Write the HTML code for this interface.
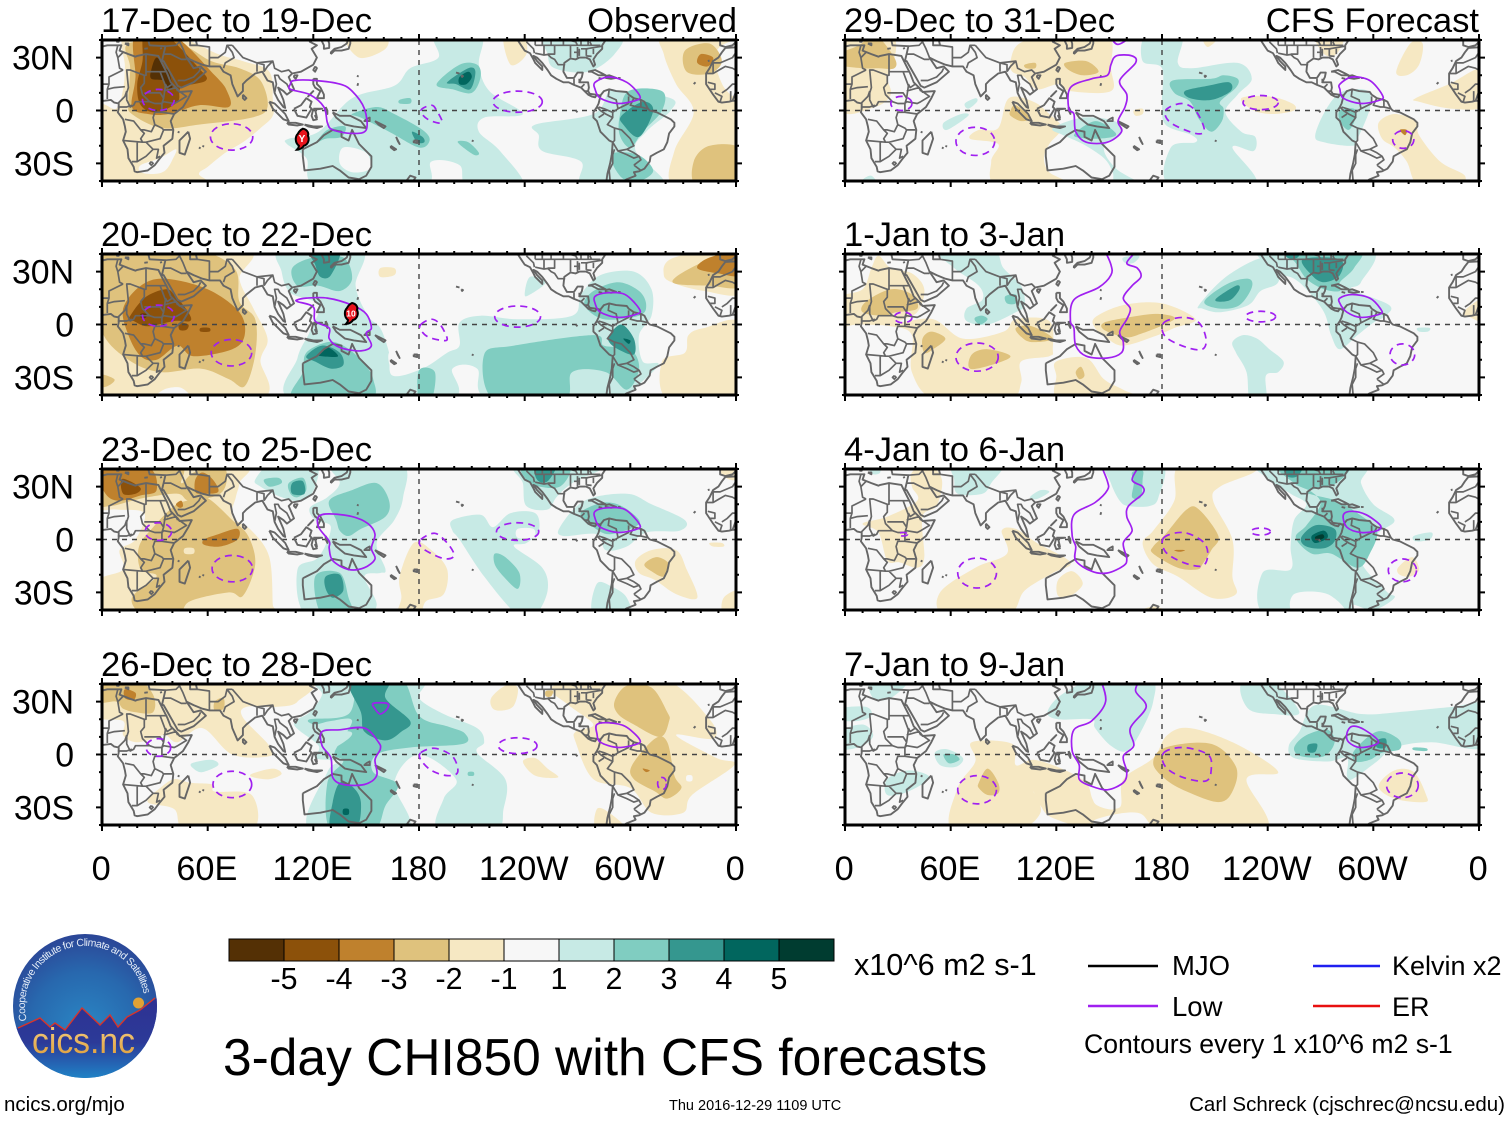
<!DOCTYPE html>
<html lang="en">
<head>
<meta charset="utf-8">
<title>3-day CHI850 with CFS forecasts</title>
<style>
html,body{margin:0;padding:0;background:#fff;width:1510px;height:1121px;overflow:hidden}
svg{display:block;font-family:"Liberation Sans",Arial,sans-serif}
</style>
</head>
<body>
<svg id="chart" xmlns="http://www.w3.org/2000/svg" width="1510" height="1121" viewBox="0 0 1510 1121">
<defs>
<radialGradient id="logoSky" cx="50%" cy="65%" r="70%"><stop offset="0" stop-color="#2a86c4"/><stop offset="0.55" stop-color="#2868ae"/><stop offset="1" stop-color="#2c3f92"/></radialGradient>
<linearGradient id="logoLand" x1="0" y1="0" x2="0" y2="1"><stop offset="0" stop-color="#2e3192"/><stop offset="0.55" stop-color="#2c3a98"/><stop offset="1" stop-color="#1f86c8"/></linearGradient>
<linearGradient id="logoGold" x1="0" y1="0" x2="0" y2="1"><stop offset="0" stop-color="#f7d58a"/><stop offset="1" stop-color="#dd9a35"/></linearGradient>
<clipPath id="logoClip"><circle cx="85" cy="1006" r="72"/></clipPath>
<path id="logoArc" d="M 26.800 1020.500 A 60 60 0 1 1 143.700 993.500"/>
</defs>
<g id="panels"></g>

<g id="colorbar"></g>
<text x="854" y="975" font-size="30.600">x10^6 m2 s-1</text>

<g>
<line x1="1088" y1="966" x2="1158" y2="966" stroke="#000" stroke-width="2.500"/>
<text x="1172" y="975" font-size="27.500">MJO</text>
<line x1="1088" y1="1006" x2="1158" y2="1006" stroke="#a020f0" stroke-width="2.500"/>
<text x="1172" y="1016" font-size="27.500">Low</text>
<line x1="1313" y1="966" x2="1380" y2="966" stroke="#2020f0" stroke-width="2.500"/>
<text x="1392" y="975" font-size="27">Kelvin x2</text>
<line x1="1313" y1="1006" x2="1380" y2="1006" stroke="#e81010" stroke-width="2.500"/>
<text x="1392" y="1016" font-size="27">ER</text>
<text x="1084" y="1053" font-size="26.600">Contours every 1 x10^6 m2 s-1</text>
</g>

<text x="223" y="1075" font-size="51.5">3-day CHI850 with CFS forecasts</text>
<text x="4" y="1111" font-size="20.500">ncics.org/mjo</text>
<text x="669" y="1110" font-size="14.500">Thu 2016-12-29 1109 UTC</text>
<text x="1505" y="1111" font-size="20.500" text-anchor="end">Carl Schreck (cjschrec@ncsu.edu)</text>

<g>
<circle cx="85" cy="1006" r="72" fill="url(#logoSky)"/>
<g clip-path="url(#logoClip)">
<path d="M 10 1029 L 18 1028 L 40 1018 L 50 1027 L 55 1023 L 65 1030 L 82 1008 L 100 1025 L 110 1015 L 118 1027 L 127 1017 L 140 1010 L 158 997 L 158 1080 L 10 1080 Z" fill="url(#logoLand)" stroke="none"/>
<path d="M 18 1028 L 40 1018 L 50 1027 L 55 1023 L 65 1030 L 82 1008 L 100 1025 L 110 1015 L 118 1027 L 127 1017 L 140 1010 L 155 998" fill="none" stroke="#d8342a" stroke-width="1.4"/>
<circle cx="138.500" cy="1003" r="5.500" fill="#e0a235"/>
</g>
<text font-size="10.500" fill="#e4ecf7"><textPath href="#logoArc" textLength="191">Cooperative Institute for Climate and Satellites</textPath></text>
<text x="32" y="1053" font-size="36" textLength="103" lengthAdjust="spacingAndGlyphs" fill="url(#logoGold)">cics.nc</text>
</g>

<script>
const NS = 'http://www.w3.org/2000/svg';

/* ---------- axis definitions ---------- */
const columnLeftEdges = [102, 845];
const rowTopEdges = [40, 254, 469, 684];
const panelWidth = 634;
const panelHeight = 141;
const lonRange = [0, 360];
const latRange = [40, -40];
const lonMajorTicks = [0, 60, 120, 180, 240, 300, 360];
const lonMajorLabels = ['0', '60E', '120E', '180', '120W', '60W', '0'];
const latMajorTicks = [30, 0, -30];
const latMajorLabels = ['30N', '0', '30S'];

/* ---------- colour scale ---------- */
const brownLevels = ['#f6e8c3', '#dfc27d', '#bf812d', '#8c510a', '#543005'];
const tealLevels = ['#c7eae5', '#80cdc1', '#35978f', '#01665e', '#003c30'];
const neutralColor = '#f7f7f7';
const colorbarColors = ['#543005','#8c510a','#bf812d','#dfc27d','#f6e8c3','#f7f7f7','#c7eae5','#80cdc1','#35978f','#01665e','#003c30'];
const colorbarLabels = ['-5','-4','-3','-2','-1','1','2','3','4','5'];

/* ---------- panel metadata ---------- */
const panelTitles = ['17-Dec to 19-Dec','20-Dec to 22-Dec','23-Dec to 25-Dec','26-Dec to 28-Dec','29-Dec to 31-Dec','1-Jan to 3-Jan','4-Jan to 6-Jan','7-Jan to 9-Jan'];

/* ---------- filled CHI850 contours: [level, [lon,lat,...]] ---------- */
const fieldP1 = [
[-1,[-3,1,8,1,12,12,13,25,13,43,40,43,66,32,80,28,95,22,97,6,97,-3,90,-10,80,-18,70,-24,60,-32,55,-36,58,-43,-3,-43]],
[0,[22,-31,33,-27,42,-22,40,-28,36,-34,30,-36,22,-35]],
[-2,[15,38,43,38,62,28,78,24,90,17,94,2,85,-4,55,-8,34,-10,17,-2,15,5,16,24]],
[-3,[19,43,40,43,64,20,71,11,72,2,55,3,38,-2,26,-2,17,2,19,19]],
[-4,[24,43,36,43,55,24,59,17,45,13,43,5,31,-1,22,3,20,15,23,28]],
[-5,[31,30,36,24,38,22,40,13,37,13,35,17,28,18,28,23]],
[-1,[320,43,319,32,326,15,336,-1,325,-23,325,-43,363,-43,363,43]],
[0,[352,37,363,37,363,9,354,12,348,28]],
[-2,[331,34,345,38,352,28,345,21,332,22]],
[-3,[340,32,347,30,344,25,338,27]],
[-2,[336,-29,345,-20,363,-22,363,-43,338,-43]],
[-1,[138,43,146,30,161,35,160,43]],
[-1,[228,43,232,26,241,32,239,43]],
[1,[189,43,215,43,214,26,220,11,239,-2,217,-4,214,-12,226,-23,239,-43,208,-43,203,-31,187,-29,182,-43,123,-43,116,-27,105,-19,106,-16,123,-12,142,7,166,14,175,24,191,30]],
[0,[137,-21,150,-24,152,-33,142,-35,135,-30]],
[1,[246,-8,279,-2,288,11,295,11,323,7,323,0,309,-12,303,-23,319,-43,274,-43,272,-29,250,-23,248,-14]],
[1,[253,43,293,43,291,32,276,22,257,24,253,32]],
[2,[142,-2,156,2,166,-2,182,-11,186,-17,180,-21,163,-12,147,-4]],
[2,[294,-3,299,11,318,11,318,0,307,-12,300,-21,294,-14]],
[2,[289,-25,304,-25,313,-34,305,-40,295,-38]],
[2,[190,15,203,26,213,26,215,19,210,10,199,12]],
[2,[169,6,175,7,175,4,169,4]],
[2,[202,-18,208,-18,214,-24,211,-25]],
[2,[122,-18,128,-11,138,-9,136,-15,127,-16]],
[3,[196,16,208,24,212,22,209,12,201,15]],
[3,[295,-3,307,5,313,0,305,-15,296,-8]],
[3,[176,-12,182,-15,183,-18,179,-18]],
[4,[203,19,208,22,210,19,207,15,203,15]]
];
const fieldP2 = [
[-1,[81,43,78,26,86,9,94,-8,90,-20,88,-43,-3,-43,-3,43]],
[0,[30,-43,35,-37,45,-36,50,-43]],
[-2,[-3,43,50,43,75,32,78,13,87,3,87,-17,81,-35,72,-31,56,-25,33,-27,15,-20,0,-4,-3,25]],
[-2,[-3,-28,7,-31,3,-35,-3,-35]],
[-3,[12,9,22,22,36,26,60,20,78,7,81,-6,74,-14,52,-18,43,-12,31,-20,22,-18,15,-6]],
[-4,[15,3,24,15,36,20,41,17,49,7,50,2,41,2,26,-1,18,2]],
[-4,[44,1,49,0,48,-3,44,-3]],
[-4,[56,-2,61,-2,61,-4,56,-4]],
[-5,[22,6,25,6,25,4,22,4]],
[-1,[319,28,325,38,363,43,363,18,342,19,326,23]],
[-2,[324,24,338,34,361,42,363,22,345,22]],
[-3,[338,32,345,38,363,41,363,28,350,29]],
[-1,[318,-21,331,-16,333,-6,342,-2,363,0,363,-43,322,-43]],
[-1,[158,32,166,32,166,28,158,27]],
[1,[102,43,147,43,144,22,151,5,158,-2,163,-16,165,-29,182,-25,196,-16,203,-12,203,1,215,5,236,3,267,5,272,17,283,28,302,30,312,20,312,5,305,-6,307,-21,316,-23,300,-39,302,-43,222,-43,213,-25,199,-25,196,-43,109,-43,111,-19,118,-4,123,11,107,18,102,30]],
[0,[163,-16,172,-17,175,-24,165,-26]],
[1,[240,17,243,27,252,24,243,17]],
[2,[108,32,120,38,137,38,142,26,135,19,123,22,111,22]],
[2,[116,-16,128,-10,137,-12,147,-20,154,-31,151,-43,109,-43,114,-27]],
[2,[217,-17,234,-12,279,-6,285,-12,300,-14,305,-25,298,-37,286,-27,267,-27,262,-43,223,-43]],
[2,[180,-26,189,-27,187,-43,180,-43]],
[2,[279,19,293,24,305,19,309,11,305,5,285,3,274,11]],
[3,[118,43,135,43,130,28,124,27,121,34]],
[3,[116,-18,125,-12,135,-16,137,-23,130,-25,121,-21]],
[3,[288,-6,295,0,302,-8,302,-17,293,-14,288,-10]],
[4,[123,-17,128,-13,134,-18,125,-18]],
[4,[296,-8,300,-9,299,-11]]
];
const fieldP3 = [
[-1,[-3,43,78,43,78,32,76,24,74,13,85,5,95,-10,97,-37,97,-43,-3,-43,-3,-24,12,-17,10,-6,19,0,24,15,8,17,-3,19]],
[-2,[48,22,59,24,74,11,83,2,87,-14,80,-32,72,-30,50,-35,43,-43,24,-43,17,-33,31,-21,22,-17,21,-4,29,7,41,19]],
[-2,[-3,43,43,43,45,32,52,38,67,42,71,36,67,26,50,22,43,26,26,24,17,22,5,19,-3,21]],
[-3,[-3,41,26,41,31,28,22,25,10,22,2,26]],
[-3,[53,34,57,38,63,34,66,27,57,26,53,27]],
[-3,[42,20,45,22,46,19,44,18]],
[-3,[58,0,66,3,77,6,77,0,67,-4,58,-3]],
[-4,[11,34,16,33,22,29,19,26,12,26]],
[-1,[47,-5,52,-5,52,-8,47,-8]],
[-1,[169,-21,177,-2,187,-6,196,-17,194,-31,184,-35,180,-43,168,-43,170,-33]],
[-1,[303,-12,312,-6,326,-6,332,-17,338,-33,326,-31,314,-23,305,-19]],
[-2,[308,-14,315,-10,322,-14,319,-21,312,-18]],
[-1,[345,-2,352,-2,353,-4,347,-4]],
[-1,[353,-33,363,-29,363,-43,353,-43]],
[-1,[350,43,363,43,360,34,353,36]],
[1,[87,34,97,43,121,43,121,30,114,22,102,24,90,30]],
[1,[131,43,170,43,171,24,166,11,156,-2,161,-17,158,-19,149,-21,156,-37,147,-43,116,-43,111,-17,123,-10,130,7,121,11,118,18,128,24,135,32]],
[1,[199,11,215,14,222,7,232,15,246,15,248,5,241,-2,234,-4,250,-16,253,-29,246,-43,236,-43,217,-21,203,0,199,5]],
[0,[236,6,245,6,245,1,236,1]],
[1,[236,43,286,43,267,32,258,24,253,17,241,19,239,32]],
[1,[260,7,274,22,298,26,312,20,331,11,328,5,309,4,298,-4,286,-6,281,3,262,2]],
[1,[281,-25,290,-27,298,-33,299,-43,279,-43]],
[2,[92,34,100,35,102,32,95,30]],
[2,[106,32,114,35,116,28,111,24,107,26]],
[3,[108,32,114,33,115,26,108,26]],
[2,[129,22,142,28,156,32,163,22,161,13,147,6,140,2,135,5,133,11]],
[2,[121,-21,135,-19,140,-33,142,-43,125,-43]],
[3,[127,-21,135,-20,137,-29,131,-33,127,-28]],
[2,[223,-8,229,-10,237,-19,236,-28,228,-21,223,-14]],
[2,[239,43,265,43,260,30,243,32]],
[3,[246,43,258,43,253,33,247,34]],
[2,[274,17,285,21,295,19,305,11,302,7,288,3,279,7,272,13]]
];
const fieldP4 = [
[-1,[-3,43,112,43,111,30,99,27,82,27,80,21,95,5,95,-1,74,0,57,15,43,7,36,11,29,9,19,7,12,11,12,19,-3,22]],
[-2,[-3,43,19,43,29,34,29,24,19,24,12,26,8,30,-3,30]],
[-2,[64,30,69,32,69,26,64,25]],
[-3,[13,37,19,35,18,31,13,32]],
[-1,[41,-14,50,-16,63,-17,64,-21,85,-23,85,-43,48,-43,41,-31,26,-27,33,-19]],
[-1,[85,-11,97,-8,102,-11,95,-14,86,-13]],
[-1,[239,-4,246,-2,253,-8,259,-13,246,-12]],
[-1,[221,32,229,39,236,38,234,28,228,25,222,26]],
[-1,[255,38,279,43,319,43,345,20,347,9,326,11,349,-2,359,-6,335,-23,330,-33,312,-33,300,-19,279,-14,269,7,269,13,279,17,265,28]],
[0,[332,-12,335,-12,335,-15,332,-15]],
[-1,[281,-31,288,-33,298,-43,281,-43]],
[-2,[291,30,298,39,312,38,321,24,322,19,317,10,302,17,293,23]],
[-2,[301,-6,314,9,321,7,325,-12,329,-19,321,-25,314,-21,302,-14]],
[-3,[307,-8,311,-9,309,-10]],
[-2,[252,36,256,36,255,33,252,33]],
[1,[123,43,180,43,180,32,194,23,213,15,217,7,213,1,229,-14,228,-31,223,-43,191,-43,194,-25,201,-14,180,0,166,-16,173,-43,118,-43,128,-10,135,-4,121,-2,123,5,109,17,118,24,125,34]],
[2,[118,20,140,23,147,43,170,43,180,22,196,16,206,12,205,6,175,4,156,0,154,-10,168,-17,161,-29,154,-43,130,-43,128,-16,137,-4,132,1,142,19,130,19,121,17]],
[1,[128,12,141,13,140,9,129,3]],
[3,[140,43,163,43,161,32,175,19,170,13,161,8,149,13,147,24]],
[3,[135,-16,142,-18,147,-27,144,-43,130,-43,131,-27]],
[4,[137,-31,140,-31,140,-34,137,-34]],
[2,[208,-10,211,-10,211,-12,208,-12]],
[1,[51,-5,62,-3,66,-6,57,-10,52,-8]]
];
const fieldP5 = [
[-1,[-3,43,26,43,28,28,24,19,26,9,17,2,-3,1]],
[-1,[94,28,99,38,118,43,149,43,151,24,151,11,128,11,121,15,109,12,102,19,95,22]],
[-1,[87,-10,93,7,107,5,116,-2,123,-10,116,-19,113,-27,116,-35,128,-43,87,-43,83,-29,87,-19,71,-16,76,-11]],
[-1,[203,43,213,43,206,36]],
[-1,[225,7,241,8,254,4,255,0,243,-2,232,0]],
[-1,[303,-7,312,-2,324,-6,326,-14,338,-29,352,-37,347,-43,326,-43,319,-29,312,-21,305,-16]],
[-1,[313,22,321,38,328,38,326,26,319,20]],
[-1,[324,7,343,15,363,24,363,3,345,1,326,5]],
[-1,[267,43,283,43,279,32,272,32]],
[-1,[164,0,169,1,169,-2,165,-3]],
[-2,[-3,32,8,37,17,43,28,30,28,24,19,24,10,24,-3,26]],
[-2,[125,27,137,28,144,22,135,20,127,23]],
[-2,[102,26,108,27,108,24,103,24]],
[-2,[94,0,97,3,105,-4,100,-6,94,-3]],
[-3,[315,-11,319,-11,318,-14]],
[1,[68,4,74,7,75,5,70,1]],
[1,[56,-7,66,-2,70,-3,58,-11]],
[1,[10,-40,15,-37,19,-43]],
[1,[169,28,171,43,191,43,189,27,197,24,223,27,231,18,223,9,216,-1,225,-12,233,-15,232,-23,220,-21,233,-43,185,-43,185,-21,199,-18,197,-14,182,-8,180,5,180,24]],
[2,[186,17,208,18,215,20,223,18,222,13,213,5,215,1,214,-6,208,-12,201,-5,196,5,187,10]],
[3,[193,11,206,14,218,16,219,11,208,6,196,7]],
[1,[267,-14,274,2,283,11,297,11,298,1,291,-16,288,-20,272,-18]],
[2,[281,0,289,1,290,-4,286,-11,281,-6]],
[1,[118,-10,135,-4,153,-6,157,-13,147,-21,154,-33,170,-43,154,-43,152,-35,147,-27,135,-19,124,-14]],
[2,[130,-14,142,-6,153,-12,152,-15,140,-16]]
];
const fieldP6 = [
[-1,[15,32,19,39,26,32,38,29,45,20,41,7,29,1,50,3,67,-8,90,-4,97,3,116,2,118,-14,116,-18,100,-21,100,-33,92,-43,52,-43,38,-27,38,-6,26,-1,8,0,-3,0,-3,15,10,20]],
[-1,[120,-21,137,-19,147,-31,158,-37,168,-43,123,-43,120,-29]],
[-1,[142,4,158,11,180,12,199,3,187,-2,175,-7,158,-12,149,-8,142,-2]],
[-2,[10,7,12,13,26,20,38,17,41,9,29,7,22,5]],
[-2,[44,-8,49,-4,57,-8,50,-14,45,-16]],
[-2,[71,-25,72,-17,81,-14,94,-18,83,-23]],
[-2,[97,-2,106,-1,118,-8,106,-10,100,-7]],
[-2,[131,-27,134,-24,136,-29,133,-31]],
[-2,[147,1,161,4,177,6,187,3,166,-6,158,-7,147,-3]],
[-1,[351,7,363,15,363,2,355,4]],
[1,[52,43,83,43,90,32,100,22,102,11,97,7,81,0,69,2,69,9,78,14,76,22,62,32]],
[2,[74,4,78,5,81,3,77,0,74,2]],
[2,[91,16,97,17,97,12,92,12]],
[1,[158,38,167,39,164,35,159,35]],
[1,[201,11,215,26,234,37,246,37,246,24,236,19,229,11,213,7,203,9]],
[2,[204,13,217,23,229,26,231,21,224,11,213,9]],
[3,[211,15,222,22,224,20,219,14,212,13]],
[1,[236,43,298,43,293,24,288,20,309,11,307,5,300,1,291,-6,281,-14,276,-6,272,7,262,20,255,26,246,30]],
[2,[246,43,291,43,289,32,281,24,281,19,272,20,262,26,255,36]],
[3,[250,43,258,43,257,38,251,38]],
[3,[260,37,281,37,281,28,272,24,265,28]],
[1,[220,-10,226,-6,234,-8,241,-14,249,-21,246,-27,239,-29,239,-43,230,-43,228,-27,222,-16]],
[1,[325,-2,332,-2,331,-4,326,-4]]
];
const fieldP7 = [
[-1,[38,38,47,43,55,34,52,19,44,13,45,-10,41,-16,31,-13,24,-12,19,4,10,9,24,13,41,22,38,30]],
[-1,[89,5,97,6,109,-2,128,-13,118,-19,102,-29,92,-43,57,-43,54,-30,74,-16,92,-8]],
[-1,[121,-23,129,-18,135,-25,128,-32,121,-32]],
[-1,[169,-2,175,5,187,22,191,43,232,43,232,38,213,30,209,22,220,0,220,-21,222,-31,208,-33,189,-21,175,-14]],
[-1,[165,-43,175,-38,187,-43]],
[-2,[175,-4,182,3,194,17,201,17,212,2,208,-6,203,-14,200,-17,189,-16,175,-8]],
[-3,[187,-6,193,-6,190,-7]],
[-1,[314,-16,322,-10,326,-17,321,-21,315,-20]],
[1,[62,43,89,43,83,32,78,26,64,26,62,34]],
[1,[14,40,19,43,20,38,16,37]],
[1,[105,24,111,28,116,27,109,23]],
[1,[149,43,180,43,178,24,173,19,161,19,156,22,151,32]],
[2,[163,38,169,39,169,34,168,24,163,24,164,32]],
[1,[236,43,293,43,293,32,300,20,312,11,302,3,293,-12,307,-29,312,-33,300,-40,288,-37,286,-43,239,-43,237,-19,253,-17,253,-4,255,11,262,20,253,26,241,34]],
[0,[255,-31,274,-31,284,-43,256,-43]],
[1,[323,2,333,4,332,0,324,-1]],
[2,[246,43,285,43,279,32,262,27,279,22,291,15,302,5,298,-8,291,-16,276,-8,265,-8,256,1,262,8,270,20,265,27,255,32]],
[3,[259,1,267,8,278,6,278,-1,272,-5,262,-4]],
[3,[249,43,260,43,257,36,251,36]],
[4,[265,2,272,5,274,1,267,-2]],
[5,[267,1.5,271,3,272,1,268,-0.5]]
];
const fieldP8 = [
[-1,[61,-43,64,-19,74,-4,72,7,95,6,97,-6,107,-3,123,-8,137,-16,142,-27,156,-30,158,-14,175,-2,183,11,196,15,222,6,246,-10,228,-14,239,-43,182,-43,166,-33,142,-37,142,-43,118,-36,111,-29,107,-21,111,-33,97,-43]],
[0,[142,-20,153,-22,153,-31,142,-28]],
[-2,[175,-5,182,4,208,6,222,-7,220,-21,212,-27,194,-21,182,-14]],
[-2,[76,-16,81,-8,87,-16,87,-22,81,-23,76,-19]],
[-1,[303,-18,312,-9,323,-10,330,-23,329,-27,312,-25]],
[1,[15,43,36,43,26,32,16,32]],
[1,[-3,26,12,27,15,22,7,19,-3,20]],
[1,[-3,13,10,17,16,11,10,5,-3,3]],
[1,[24,-14,36,-9,48,-13,36,-21,24,-23]],
[1,[51,1,58,3,67,-2,63,-7,54,-6]],
[2,[56,0,62,0,65,-3,59,-5]],
[1,[115,24,123,34,143,43,173,43,175,30,168,13,160,2,151,5,142,15,140,20,121,20]],
[1,[225,40,241,43,258,24,243,23,229,26]],
[1,[252,5,258,13,267,28,293,23,314,24,345,27,363,28,363,4,333,7,312,4,302,-4,288,-14,285,-12,285,-2,274,-4,255,-2]],
[2,[255,4,262,11,274,14,278,7,272,-1,259,-1]],
[2,[289,2,302,13,314,9,315,3,305,1,298,-3,290,-4]],
[2,[323,4,330,3.5,330,2,323,2.5]],
[3,[263,5.5,268,6,267,1.5,263,1.5]],
[3,[302,8,307,9,307,4,302,4]]
];

/* ---------- low-frequency contours (solid positive, dashed negative) ---------- */
const lowSolidClosedP1 = [[107,15,109,17,121,17,135,15,142,11,149,1,150,-11,142,-13,131,-11,128,-7,126,2,118,9,107,12],[280,16,288,19,298,16,305,9,304,6,293,4,283,7,280,12]];
const lowSolidClosedP2 = [[111,14,116,15,128,15,142,11,150,6,153,-2,150,-5,153,-12,147,-15,135,-13,129,-8,129,-2,121,2,120,10,111,13],[280,16,287,18,297,17,305,9,304,6,293,4,283,7,280,12]];
const lowSolidClosedP3 = [[123,13,129,14.5,142,13,151,9,155,3,153,-5,155,-11,149,-16,140,-17,131,-12,129,-5,129,-1,123,7],[280,16,287,18,297,17,305,9,304,6,293,4,283,7,280,12]];
const lowSolidClosedP4 = [[125,13,135,14,149,15,157,7,158,3,155,-3,156,-12,149,-17,137,-17,131,-13,130,-2,125,5],[154,29,162,29,162,26,158,23,155,26],[281,17,288,18,297,16,305,9,304,6,293,4,283,7,281,12]];
const lowSolidClosedP5 = [[151,26,154,31,163,31,165,27,156,17,160,9,159,2,155,-6,157,-12,149,-18,137,-18,131,-12,130,-2,127,1,128,13,140,18,149,20],[281,15,288,19,298,17,305,9,304,6,293,4,283,7,281,12]];
const lowSolidClosedP6 = [[281,15,288,17,298,15,304,9,304,6,293,4,285,7,281,12]];
const lowSolidClosedP7 = [[283,14,288,16,296,14,304,8,302,5,293,4,285,7]];
const lowSolidClosedP8 = [[285,12,288,16,295,14,303,7,293,4,286,7]];
const lowSolidOpenP5 = [[150,43,155,37.5,164,43]];
const lowSolidOpenP6 = [[147,43,151,34,151,28,144,21,130,14,128,2,130,-2,131,-12,137,-18,149,-19,157,-16,158,-10,156,-4,160,3,162,9,158,15,163,22,168,27,166,32,160,35,167,43]];
const lowSolidOpenP7 = [[145,43,149,33,149,28,142,21,130,14,129,2,131,-4,131,-12,140,-18,149,-19,158,-15,160,-11,158,-2,163,5,160,13,161,19,169,26,169,30,163,34,168,43]];
const lowSolidOpenP8 = [[145,43,148,30,140,19,130,14,129,2,133,-6,133,-14,140,-18,149,-20,158,-16,160,-10,158,-1,164,5,162,15,171,27,165,36,168,43]];
const lowDashedEllipsesP1 = [[32,6,9,6],[73.6,-15,12,7.500],[236,5,14,6]];
const lowDashedEllipsesP2 = [[32,5,9,6],[73.5,-16,11.5,7.5],[236,4.5,13,6]];
const lowDashedEllipsesP3 = [[32,4.5,7.5,5],[74,-16.5,11.5,7.5],[236,4.5,12,5]];
const lowDashedEllipsesP4 = [[32,4,7,5],[74,-17,11,7.5],[236,5,11,4.5],[318,-16.5,2.5,3.5]];
const lowDashedEllipsesP5 = [[32,4,6,4],[74,-17.5,11,8],[236,4.5,10,4],[317,-16.5,6,5]];
const lowDashedEllipsesP6 = [[33,4,5,3],[75,-18.5,12,8],[236,4.5,8.5,3],[316.5,-17,7,6]];
const lowDashedEllipsesP7 = [[33,3,2.5,1],[75,-19,11,8.5],[236,4.5,5.5,2],[316.5,-17.5,8,6.5]];
const lowDashedEllipsesP8 = [[75,-20,11,8],[316.5,-17.5,9,7]];
const lowDashedLoopsP1 = [[181,0,187,3,190,0,193,-7,185,-5]];
const lowDashedLoopsP2 = [[181,0,187,3,192,0,196,-8,193,-9,185,-7,181,-3]];
const lowDashedLoopsP3 = [[181,0,189,3.5,196,-2,200,-9,195,-11,187,-8,181,-4]];
const lowDashedLoopsP4 = [[181,1,189,3.5,199,-1,202,-10,196,-12,187,-9,181,-3]];
const lowDashedLoopsP5 = [[182,0,191,4,199,0,204,-11,199,-13,185,-7]];
const lowDashedLoopsP6 = [[181,1,192,4,201,1,205,-8,203,-14,194,-13,182,-7]];
const lowDashedLoopsP7 = [[181,1,192,4,203,-1,206,-8,203,-15,192,-13,182,-7]];
const lowDashedLoopsP8 = [[181,1,192,4,206,0,208,-8,205,-15,192,-13,182,-7]];

/* ---------- tropical cyclones ---------- */
const stormPanels = [0, 1];
const stormLons = [113.5, 141.4];
const stormLats = [-16, 6.5];
const stormLabels = ['Y', '10'];

/* ---------- geography: coasts ---------- */
const coastlines = [
[-3,5,5,6,7,4.5,9.5,4,9.5,1,9,-1,12,-5,13,-9,13.5,-12,12,-17,14.5,-22,15,-27,18,-32,18.5,-34.5,20,-35,26,-34,30,-31,33,-27,35.5,-24,35,-20,40,-16,40.5,-11,39,-6,41,-2,46,2,49,7,51,11,44,10.5,43,12,39,16,37,21,35,25,33,29,32,31,25,32,20,31,19,30.5,15,32,10,34,11,37,3,37,-3,35.5],
[26,41,27,37,36,36.5,35,32,34,28,35,28,39,21,43,14,45,13,52,16,59,22,56,25,52,24,48,30,52,28,57,26,61,25,67,25,69,22,73,20,74,15,77,8,80,11,80,15,82,17,87,21,91,22,94,17,97,16,98,10,100,6,103,2,104,1.5,103,6,100,13,103,11,105,9,109,12,106,19,108,21,113,22,120,26,122,30,119,35,122,37,118,39,122,41],
[124,41,126,37,126,35,129,35.5,129,38,128,41],
[130,32,132,34,136,34,140,35,141,38,141,41,140,41,139,38,136,36,132,35,130,33,130,32],
[121,25,120,23,121,22,122,24,121,25],
[80,9,82,7,81,6,80,7,80,9],
[109,20,111,20,110,18,109,19,109,20],
[120,18,122,18,122,15,124,13,126,9,126,7,122,7,124,11,121,13,120,15,120,18],
[118,9,120,11,119,10,117,8,118,9],
[109,1,111,2,113,3,116,7,119,5,118,2,119,1,116,-4,111,-3,110,-1,109,1],
[95,5,98,4,104,-2,106,-6,103,-5,101,-3,97,1,95,5],
[105,-7,110,-7,114,-8,111,-8.5,106,-8,105,-7],
[115,-8,120,-9,125,-9,122,-10,117,-9,115,-8],
[120,1,125,1,121,0.5,122,-4,121,-3,122,-5,120,-5.5,119,-3,120,1],
[127,2,128,0,128,-2,127,0,127,2],
[131,-1,135,-3,141,-3,147,-6,150,-10,143,-9,138,-8,133,-4,131,-1],
[150,-5,152,-4,152,-6,149,-6,150,-5],
[155,-6,157,-8,160,-10,161,-9,157,-7,155,-6],
[167,-15,168,-17,169,-19,168,-17.5,167,-15],
[164,-20,167,-22,166,-22.5,164,-21,164,-20],
[177,-17,179,-17,179,-18.5,177,-18,177,-17],
[114,-22,116,-21,122,-18,126,-14,131,-11,136,-12,136,-15,140,-17,142,-11,146,-19,153,-26,153,-32,150,-37,146,-39,140,-38,135,-34,131,-31.5,124,-33,115,-34,114,-26,114,-22],
[172,-41,175,-37,178,-38,176,-41],
[49,-12,50,-16,47,-25,44,-24,44,-17,49,-12],
[57,-20,58,-20.5],[55,-21,56,-21.500],[43,-12,44,-12.500],
[50,41,50,37,54,37,53,41],
[33,35,34,35.500],[24,35,26,35.300],[13,38,15,38,15,37,13,38],[8.500,41,9.500,39,8.500,39,8.500,41],
[351,42,351,37,354,36,358,37,360,39,363,42],
[363,36,354,35.5,352,33,350,30,347,28,345,24,343,21,343,15,345,12,347,9,350,5,352,4.5,356,5,358,5.5,363,5.5],
[344,28,345,28.300],[336,15,337,16],
[235.5,43,236,40,238,37,240,34,243,32.5,245,29,246,27,250,23,250,25,247,28,245,31,247,30,250,27,253,23,255,20,258,18,262,16,265,16,268,14.5,272,13,274,11,276,9,278,8,280,7.5,281,9,283,8,282,4,281,2,279,-1,279,-4,281,-6,283,-12,288,-17,290,-18,289.5,-25,288.5,-30,287,-36,286,-43],
[286,43,286,40,284,37,284,35,281,32,279,29,280,26,279,25,278,27,277,29,275,30,271,30,269,29,266,29.5,262.5,27,262,22,264,18.5,268,18.5,269,20,270,21.5,273,21.5,272.5,19,271,16,276,16,276.5,13,276,11,277,9.5,280,9,283,8.5,285,11,288,12,292,11,298,10.5,299,9,302,7,306,6,308,5,310,1,311,0,315,-1,319,-3,323,-5,325,-7,325,-9,322,-13,321,-18,319,-22,315,-24,311.5,-26,311,-29,308,-33,305,-34.5,302,-35,303,-37,298,-39,295,-41,295,-43],
[276,22,280,23,284,21,286,20,282,20,278,22,276,22],
[286,19.5,288,20,292,18.5,289,18,286,18.5,286,19.5],
[282,18.500,284,18],[293,18.500,294.500,18.400],
[204,20,205,19.5,204.500,19,204,20],[201,21.500,203,21],
[269,0,270,-1],[210,-17,211,-17.500],[145,14,145.500,15.500],[145,19,145.500,20]
];

/* ---------- geography: borders ---------- */
const borders = [
[9,37,8,33,9,30,10,24,12,23],[25,32,25,20,24,20,24,15.5,22,13,23,9,27,5,30,4,34,4,35,5,41,4,43,5,48,8,43,11.5],[25,22,37,22],
[24,20,16,23,14,23,15,13,14,10,14,6,16,2,18,3,19,5,23,5,27,5],[9,30,12,33],[12,23,4,19,4,15,0,15,-3,15],[3,12,4,15],[3,6.5,3,12,7,13,13,13.5],
[9,4,13,8,14,11],[9,2,14,2,17,3],[13,-5,18,-6,22,-11,24,-11,28,-12,30,-8,29,-4,30,-1,34,-1,34,4],[12,-17,23,-18,25,-18,33,-16,35,-11,40,-11],
[22,-11,24,-13,22,-16,23,-18],[20,-18,20,-29,17,-29],[25,-18,29,-22,32,-22,31,-27,33,-26],[34,-1,41,-2],[30,-8,34,-10,35,-11],[36,15,37,13,40,15],
[24,10,33,10,35,7,34,4],[33,22,36,14,35,7],[35,11,42,13,43,11],[20,-29,25,-26,29,-22],[28,-29,29,-30,28,-31,27,-30,28,-29],
[35,32,39,32,45,29,48,29],[43,17,47,17,52,19,55,22,56,24],[48,30,46,35,44,39],[61,25,61,30,61,36,54,37],[61,30,66,30,70,33,71,37,74,37],
[71,37,74,33,75,30,70,27,69,24],[74,37,80,30,88,27,97,28,98,24,102,22,106,23,108,21],[92,22,94,25,97,28],[98,10,99,15,98,20,100,20,101,18,105,15,106,13,107,11],
[88,27,88,22],[88,27,92,26,92,22],[36,36.5,42,37,44,39],
[241,39,245,35,245.5,32.5],[246,43,246,37],[246,37,283,37],[251,37,251,31.5],[257,37,257,32,253,32],[246,32.5,251,31.5,253,31.8],[253,32,255,30,257,29,259,26,263,26],
[257,40,265,40],[255,43,255,37],[262,40,262,37],[266,37,266,30],[265,40,269,39,270,37],[270,36,270,30],[268,33,271,33],[275,35,275,31],[272,35,276,35],[275,35,284,36.5],
[279,35,279,32],[275,31,278,30.7],[271,31,271,35],[277,39,278,37],[280,39.7,285,39.7],[250,43,250,37],[257,43,257,40],[264,43,264,40],[272,43,272,37],[276,43,276,37],
[268,18,268,14.5],[271,18,271,16],[272,13,274,15],[276,11,274,11],[283,8,283,8.5],
[282,2,285,1,290,-1,290,-4,286,-2,283,0,281,2],[288,12,287.5,8,292,6,293,1,290,-1],[293,1,299,4,299,8],[302,7,300,3,304,2,306,2,306,6],[306,2,310,1],[282,-4,285,-2],
[290,-4,287,-8,291,-10,291,-17,290,-18],[291,-10,295,-11,300,-16,302,-20,298,-22,293,-23,290,-18],[291,-22,290,-25,290,-30,288,-34,288.5,-40,288,-43],
[298,-22,302,-24,305,-26,302,-27,298,-25,293,-23],[305,-26,306,-28,302,-31],[302,-31,306,-34],
[360,33,358,30,351,27,347,27,347,21,343,21],[347,21,354,25,358,24,363,21],[344,16,348,15,348,12,345,12],[351,5,352,8,348,10],[352,10,355,12,358,15,363,15],[357,5,357,11],[358,5.5,360,11]
];

const fieldsByPanel = [fieldP1, fieldP2, fieldP3, fieldP4, fieldP5, fieldP6, fieldP7, fieldP8];
const solidClosedByPanel = [lowSolidClosedP1, lowSolidClosedP2, lowSolidClosedP3, lowSolidClosedP4, lowSolidClosedP5, lowSolidClosedP6, lowSolidClosedP7, lowSolidClosedP8];
const solidOpenByPanel = [[], [], [], [], lowSolidOpenP5, lowSolidOpenP6, lowSolidOpenP7, lowSolidOpenP8];
const dashedEllipsesByPanel = [lowDashedEllipsesP1, lowDashedEllipsesP2, lowDashedEllipsesP3, lowDashedEllipsesP4, lowDashedEllipsesP5, lowDashedEllipsesP6, lowDashedEllipsesP7, lowDashedEllipsesP8];
const dashedLoopsByPanel = [lowDashedLoopsP1, lowDashedLoopsP2, lowDashedLoopsP3, lowDashedLoopsP4, lowDashedLoopsP5, lowDashedLoopsP6, lowDashedLoopsP7, lowDashedLoopsP8];

/* ---------- helpers ---------- */
function make(tag, parent) {
  const el = document.createElementNS(NS, tag);
  parent.appendChild(el);
  return el;
}
function xAxis(col, lon) {
  return columnLeftEdges[col] + (lon - lonRange[0]) / (lonRange[1] - lonRange[0]) * panelWidth;
}
function yAxis(row, lat) {
  return rowTopEdges[row] + (latRange[0] - lat) / (latRange[0] - latRange[1]) * panelHeight;
}
function toPoints(col, row, flat) {
  const pts = [];
  for (let i = 0; i < flat.length; i += 2) pts.push([xAxis(col, flat[i]), yAxis(row, flat[i + 1])]);
  return pts;
}
function polyPath(pts) {
  return 'M' + pts.map(p => p[0].toFixed(1) + ' ' + p[1].toFixed(1)).join('L');
}
function splinePath(pts, closed) {
  const n = pts.length;
  const at = i => closed ? pts[(i + n) % n] : pts[Math.max(0, Math.min(n - 1, i))];
  let d = 'M' + pts[0][0].toFixed(1) + ' ' + pts[0][1].toFixed(1);
  const last = closed ? n : n - 1;
  for (let i = 0; i < last; i++) {
    const p0 = at(i - 1), p1 = at(i), p2 = at(i + 1), p3 = at(i + 2);
    d += 'C' + (p1[0] + (p2[0] - p0[0]) / 6).toFixed(1) + ' ' + (p1[1] + (p2[1] - p0[1]) / 6).toFixed(1) + ' ' +
         (p2[0] - (p3[0] - p1[0]) / 6).toFixed(1) + ' ' + (p2[1] - (p3[1] - p1[1]) / 6).toFixed(1) + ' ' +
         p2[0].toFixed(1) + ' ' + p2[1].toFixed(1);
  }
  return closed ? d + 'Z' : d;
}
function levelColor(level) {
  if (level === 0) return neutralColor;
  return level < 0 ? brownLevels[-level - 1] : tealLevels[level - 1];
}
function addText(parent, str, x, y, size, anchor) {
  const t = make('text', parent);
  t.textContent = str;
  t.setAttribute('x', x);
  t.setAttribute('y', y);
  t.setAttribute('font-size', size);
  if (anchor) t.setAttribute('text-anchor', anchor);
  return t;
}

/* ---------- draw panels ---------- */
const root = document.getElementById('panels');
const defsNode = document.querySelector('defs');

panelTitles.forEach(function (title, idx) {
  const col = idx < 4 ? 0 : 1;
  const row = idx % 4;
  const x0 = columnLeftEdges[col];
  const top = rowTopEdges[row];

  const panel = make('g', root);
  
  

  const clip = make('clipPath', defsNode);
  clip.setAttribute('id', 'clip' + idx);
  const clipRect = make('rect', clip);
  clipRect.setAttribute('x', x0);
  clipRect.setAttribute('y', top);
  clipRect.setAttribute('width', panelWidth);
  clipRect.setAttribute('height', panelHeight);

  const inner = make('g', panel);
  inner.setAttribute('clip-path', 'url(#clip' + idx + ')');
  
  

  const bg = make('rect', inner);
  bg.setAttribute('x', x0);
  bg.setAttribute('y', top);
  bg.setAttribute('width', panelWidth);
  bg.setAttribute('height', panelHeight);
  bg.setAttribute('fill', neutralColor);
  
  

  fieldsByPanel[idx].forEach(function (entry) {
    const shape = make('path', inner);
    shape.setAttribute('d', splinePath(toPoints(col, row, entry[1]), true));
    shape.setAttribute('fill', levelColor(entry[0]));
    
    
  });

  const grid = make('path', inner);
  grid.setAttribute('d', 'M' + x0 + ' ' + yAxis(row, 0) + 'H' + (x0 + panelWidth) + 'M' + xAxis(col, 180) + ' ' + top + 'V' + (top + panelHeight));
  grid.setAttribute('fill', 'none');
  grid.setAttribute('stroke', '#444');
  grid.setAttribute('stroke-width', '1.4');
  grid.setAttribute('stroke-dasharray', '5 5');
  
  

  let coastD = '';
  coastlines.forEach(function (line) { coastD += polyPath(toPoints(col, row, line)); });
  const coast = make('path', inner);
  coast.setAttribute('d', coastD);
  coast.setAttribute('fill', 'none');
  coast.setAttribute('stroke', '#666');
  coast.setAttribute('stroke-width', '1.9');
  coast.setAttribute('stroke-linejoin', 'round');
  
  

  let borderD = '';
  borders.forEach(function (line) { borderD += polyPath(toPoints(col, row, line)); });
  const border = make('path', inner);
  border.setAttribute('d', borderD);
  border.setAttribute('fill', 'none');
  border.setAttribute('stroke', '#666');
  border.setAttribute('stroke-width', '1.7');
  border.setAttribute('stroke-linejoin', 'round');
  
  

  solidClosedByPanel[idx].forEach(function (line) {
    const s = make('path', inner);
    s.setAttribute('d', splinePath(toPoints(col, row, line), true));
    s.setAttribute('fill', 'none');
    s.setAttribute('stroke', '#a020f0');
    s.setAttribute('stroke-width', '1.7');
    
    
  });
  solidOpenByPanel[idx].forEach(function (line) {
    const s = make('path', inner);
    s.setAttribute('d', splinePath(toPoints(col, row, line), false));
    s.setAttribute('fill', 'none');
    s.setAttribute('stroke', '#a020f0');
    s.setAttribute('stroke-width', '1.7');
    
    
  });
  dashedEllipsesByPanel[idx].forEach(function (e) {
    const s = make('ellipse', inner);
    s.setAttribute('cx', xAxis(col, e[0]));
    s.setAttribute('cy', yAxis(row, e[1]));
    s.setAttribute('rx', e[2] * panelWidth / 360);
    s.setAttribute('ry', e[3] * panelHeight / 80);
    s.setAttribute('fill', 'none');
    s.setAttribute('stroke', '#a020f0');
    s.setAttribute('stroke-width', '1.7');
    s.setAttribute('stroke-dasharray', '7 5');
    
    
  });
  dashedLoopsByPanel[idx].forEach(function (line) {
    const s = make('path', inner);
    s.setAttribute('d', splinePath(toPoints(col, row, line), true));
    s.setAttribute('fill', 'none');
    s.setAttribute('stroke', '#a020f0');
    s.setAttribute('stroke-width', '1.7');
    s.setAttribute('stroke-dasharray', '7 5');
    
    
  });

  stormPanels.forEach(function (panelIndex, s) {
    if (panelIndex !== idx) return;
    const cx = xAxis(col, stormLons[s]);
    const cy = yAxis(row, stormLats[s]);
    const marker = make('g', inner);
    marker.setAttribute('transform', 'translate(' + cx.toFixed(1) + ' ' + cy.toFixed(1) + ')');
    
    
    const body = make('path', marker);
    body.setAttribute('d', 'M1 -10C6 -9 7 -5 6 -3C8 1 6 6 2 7C1 9 -2 11 -5 11C-3 9 -3 8 -3 7C-7 4 -7 -2 -4 -5C-3 -7 -1 -9 1 -10Z');
    body.setAttribute('fill', '#e8141c');
    body.setAttribute('stroke', '#000');
    body.setAttribute('stroke-width', '2');
    const label = addText(marker, stormLabels[s], 0, 3.5, stormLabels[s].length > 1 ? 8.5 : 10, 'middle');
    label.setAttribute('fill', '#fff');
    label.setAttribute('font-weight', 'bold');
    
    
  });

  const frame = make('rect', panel);
  frame.setAttribute('x', x0);
  frame.setAttribute('y', top);
  frame.setAttribute('width', panelWidth);
  frame.setAttribute('height', panelHeight);
  frame.setAttribute('fill', 'none');
  frame.setAttribute('stroke', '#000');
  frame.setAttribute('stroke-width', '3');
  
  

  let tickD = '';
  for (let lon = 0; lon <= 360; lon += 10) {
    const len = lonMajorTicks.indexOf(lon) >= 0 ? 6 : 3;
    const x = xAxis(col, lon).toFixed(1);
    tickD += 'M' + x + ' ' + top + 'v' + (-len) + 'M' + x + ' ' + (top + panelHeight) + 'v' + len;
  }
  for (let lat = -40; lat <= 40; lat += 10) {
    const len = latMajorTicks.indexOf(lat) >= 0 ? 6 : 3;
    const y = yAxis(row, lat).toFixed(1);
    tickD += 'M' + x0 + ' ' + y + 'h' + (-len) + 'M' + (x0 + panelWidth) + ' ' + y + 'h' + len;
  }
  const ticks = make('path', panel);
  ticks.setAttribute('d', tickD);
  ticks.setAttribute('stroke', '#000');
  ticks.setAttribute('stroke-width', '2');
  ticks.setAttribute('fill', 'none');
  
  

  const titleEl = addText(panel, title, x0 - 1, top - 8, 34.6);
  
  

  if (col === 0) {
    latMajorTicks.forEach(function (lat, j) {
      const t = addText(panel, latMajorLabels[j], 74, yAxis(row, lat) + 12, 33.8, 'end');
      
      
    });
  }
  if (row === 3) {
    lonMajorTicks.forEach(function (lon, j) {
      const t = addText(panel, lonMajorLabels[j], xAxis(col, lon) - 0.8, 880, 34.3, 'middle');
      
      
    });
  }
});

const obsTitle = addText(root, 'Observed', 737, 32, 34.6, 'end');


const fcstTitle = addText(root, 'CFS Forecast', 1479, 32, 34.6, 'end');



/* ---------- colorbar ---------- */
const cbGroup = document.getElementById('colorbar');
const cbX = 229, cbY = 939, cbW = 55, cbH = 22;
colorbarColors.forEach(function (c, i) {
  const box = make('rect', cbGroup);
  box.setAttribute('x', cbX + i * cbW);
  box.setAttribute('y', cbY);
  box.setAttribute('width', cbW);
  box.setAttribute('height', cbH);
  box.setAttribute('fill', c);
  box.setAttribute('stroke', '#000');
  box.setAttribute('stroke-width', '1');
  
  
});
colorbarLabels.forEach(function (lab, i) {
  const t = addText(cbGroup, lab, cbX + (i + 1) * cbW, 989, 30.4, 'middle');
  
  
});
</script>
</svg>
</body>
</html>
